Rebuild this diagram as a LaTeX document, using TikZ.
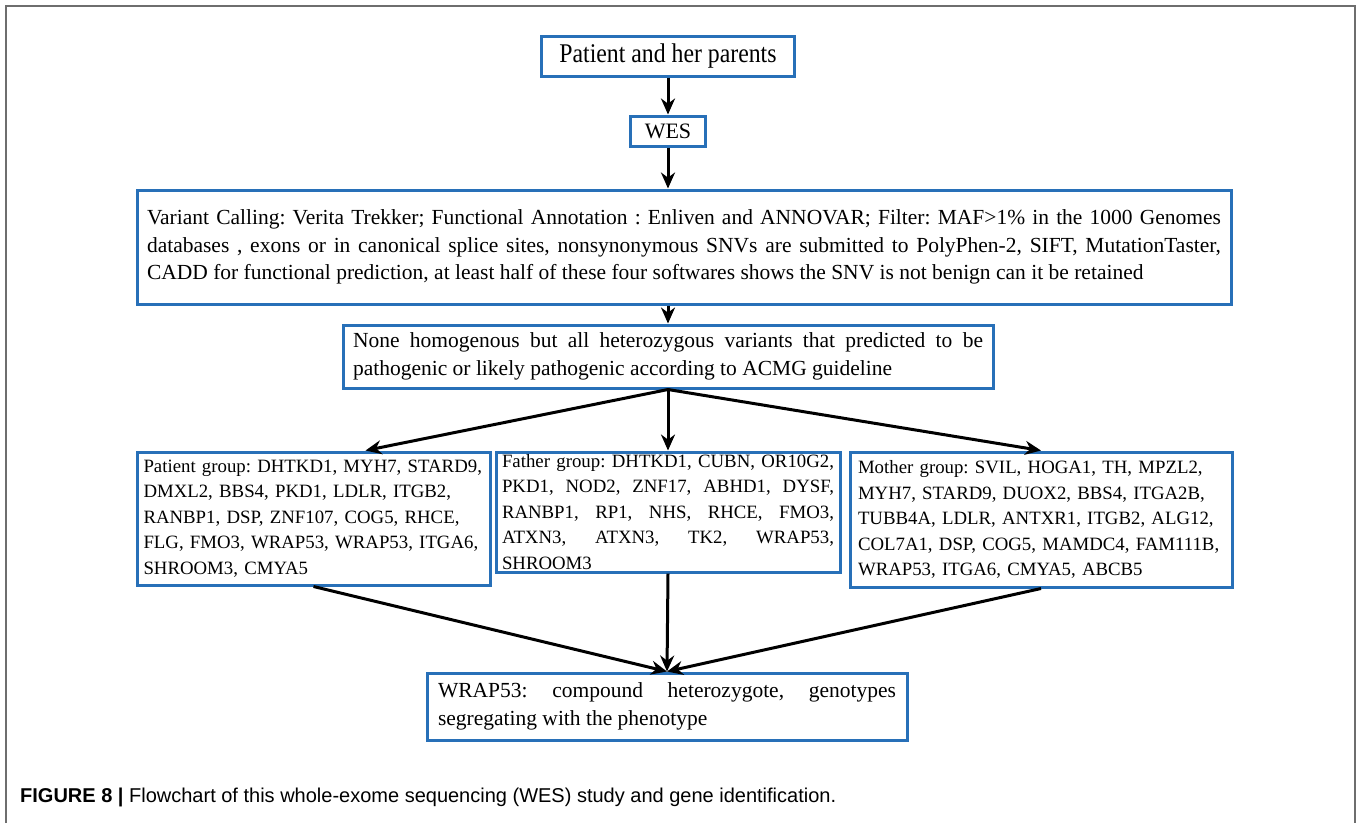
\documentclass[tikz,border=0pt]{standalone}
\usepackage{fontspec}
\setmainfont{Liberation Serif}
\newfontfamily\condserif{Liberation Serif}[FakeStretch=0.88]
\newfontfamily\capsans{Liberation Sans}
\usetikzlibrary{arrows.meta,positioning}
\definecolor{boxblue}{RGB}{40,112,184}
\definecolor{framegray}{RGB}{110,110,110}

\begin{document}
\begin{tikzpicture}[x=1pt,y=-1pt,
  flowbox/.style={draw=boxblue,line width=3pt,fill=white,inner sep=0pt,font=\frenchspacing\fontsize{21.5}{27.5}\selectfont},
  genebox/.style={flowbox,font=\frenchspacing\fontsize{18.8}{25.5}\selectfont},
  flowarrow/.style={-{Stealth[length=16pt,width=14pt]},line width=3pt}]
\useasboundingbox (0,0) rectangle (1360,823);
\fill[white] (0,0) rectangle (1360,823);
\draw[framegray,line width=2pt] (6,823) -- (6,6) -- (1355,6) -- (1355,823);
% main steps
\node[flowbox,minimum width=253pt,minimum height=40pt,font=\condserif\fontsize{27}{30}\selectfont] (pat) at (668,56) {Patient and her parents};
\node[flowbox,minimum width=75pt,minimum height=30pt,font=\fontsize{22}{26}\selectfont] (wes) at (668,131) {WES};
\node[flowbox,minimum width=1094pt,minimum height=114pt,text width=1074pt,align=justify] (filt) at (684,247)
  {Variant Calling: Verita Trekker; Functional Annotation : Enliven and ANNOVAR; Filter: MAF>1\% in the 1000 Genomes\linebreak
   databases , exons or in canonical splice sites, nonsynonymous SNVs are submitted to PolyPhen-2, SIFT, MutationTaster,\linebreak
   CADD for functional prediction, at least half of these four softwares shows the SNV is not benign can it be retained};
\node[flowbox,minimum width=650pt,minimum height=63pt,text width=630pt,align=justify] (cand) at (668,356.5)
  {None homogenous but all heterozygous variants that predicted to be\linebreak
   pathogenic or likely pathogenic according to ACMG guideline};
% groups
\node[genebox,minimum width=353pt,minimum height=133pt,text width=340pt,align=left] (pgrp) at (313.5,518.5)
  {Patient group: DHTKD1, MYH7, STARD9,\\ DMXL2, BBS4, PKD1, LDLR, ITGB2,\\ RANBP1, DSP, ZNF107, COG5, RHCE,\\
   FLG, FMO3, WRAP53, WRAP53, ITGA6,\\ SHROOM3, CMYA5};
\node[genebox,minimum width=344pt,minimum height=120pt,text width=332pt,align=justify] (fgrp) at (668,512)
  {Father group: DHTKD1, CUBN, OR10G2,\linebreak PKD1, NOD2, ZNF17, ABHD1, DYSF,\linebreak
   RANBP1, RP1, NHS, RHCE, FMO3,\linebreak ATXN3, ATXN3, TK2, WRAP53,\linebreak SHROOM3};
\node[genebox,minimum width=382pt,minimum height=135pt,text width=366pt,align=left] (mgrp) at (1041,519.5)
  {Mother group: SVIL, HOGA1, TH, MPZL2,\\ MYH7, STARD9, DUOX2, BBS4, ITGA2B,\\ TUBB4A, LDLR, ANTXR1, ITGB2, ALG12,\\
   COL7A1, DSP, COG5, MAMDC4, FAM111B,\\ WRAP53, ITGA6, CMYA5, ABCB5};
% result
\node[flowbox,minimum width=480pt,minimum height=67pt,text width=458pt,align=justify] (wrap) at (667,706.5)
  {WRAP53: compound heterozygote, genotypes\linebreak segregating with the phenotype};
\node[anchor=west,inner sep=0pt,font=\capsans\fontsize{20}{24}\selectfont] (cap) at (20,797)
  {\textbf{FIGURE 8 |} Flowchart of this whole-exome sequencing (WES) study and gene identification.};
\draw[flowarrow] (pat) -- (wes);
\draw[flowarrow] (wes.south) -- (wes.south |- filt.north);
\draw[flowarrow] (filt.south -| cand.north) -- (cand);
\draw[flowarrow] (cand.south) -- ([xshift=52pt]pgrp.north);
\draw[flowarrow] (cand.south) -- (fgrp.north);
\draw[flowarrow] (cand.south) -- (mgrp.north);
\draw[flowarrow] (pgrp.south) -- (wrap.north);
\draw[flowarrow] (fgrp.south) -- (wrap.north);
\draw[flowarrow] (mgrp.south) -- (wrap.north);
\end{tikzpicture}
\end{document}
